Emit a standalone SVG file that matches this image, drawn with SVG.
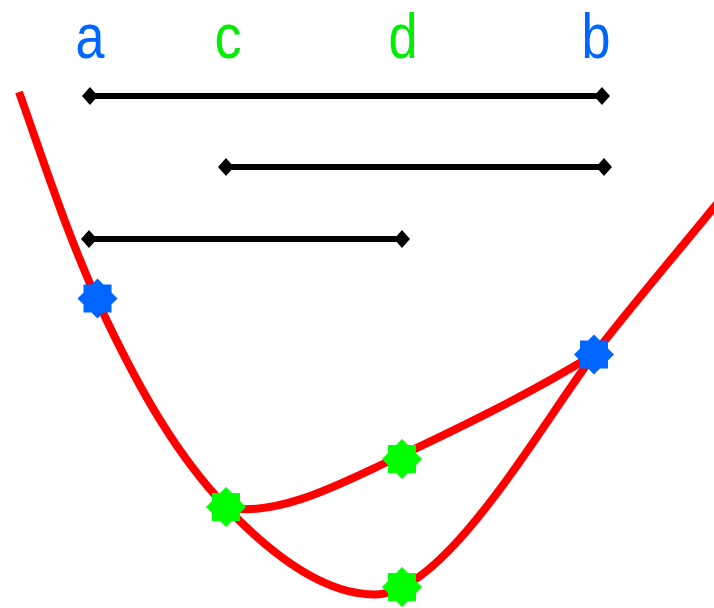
<svg xmlns="http://www.w3.org/2000/svg" width="714" height="608" viewBox="0 0 714 608">
  <style>
    .lbl { font-family: "Liberation Sans", Arial, sans-serif; font-size: 63px; text-anchor: middle; }
    .blue { fill: #0066ff; }
    .green { fill: #00ee00; }
    .seg { stroke: #000; stroke-width: 6; fill: none; }
    .curve { stroke: #ff0000; stroke-width: 8; fill: none; }
    .star-b { fill: #0066ff; }
    .star-g { fill: #00ff00; }
  </style>
  <defs>
    <marker id="dia" viewBox="-10 -10 20 20" markerWidth="20" markerHeight="20" markerUnits="userSpaceOnUse" orient="0">
      <polygon points="0,-9 8,0 0,9 -8,0" fill="#000"/>
    </marker>
    <path id="star" d="M0,-20 L6,-14 L14,-14 L14,-6 L20,0 L14,6 L14,14 L6,14 L0,20 L-6,14 L-14,14 L-14,6 L-20,0 L-14,-6 L-14,-14 L-6,-14 Z"/>
  </defs>
  <rect width="714" height="608" fill="#fff"/>

  <g id="labels">
    <text id="label-a" class="lbl blue" x="90" y="57.5" textLength="29" lengthAdjust="spacingAndGlyphs">a</text>
    <text id="label-c" class="lbl green" x="228" y="57.5" textLength="27" lengthAdjust="spacingAndGlyphs">c</text>
    <text id="label-d" class="lbl green" x="403" y="57.5" textLength="29" lengthAdjust="spacingAndGlyphs">d</text>
    <text id="label-b" class="lbl blue" x="596" y="57.5" textLength="29" lengthAdjust="spacingAndGlyphs">b</text>
  </g>

  <g id="intervals">
    <line id="interval-ab" class="seg" x1="90" y1="96" x2="602" y2="96" marker-start="url(#dia)" marker-end="url(#dia)"/>
    <line id="interval-cb" class="seg" x1="226" y1="167" x2="604" y2="167" marker-start="url(#dia)" marker-end="url(#dia)"/>
    <line id="interval-ad" class="seg" x1="89" y1="239" x2="402" y2="239" marker-start="url(#dia)" marker-end="url(#dia)"/>
  </g>

  <g id="connectors">
    <path id="curve-main" class="curve" d="M19,92 C46,168 70.5,245 107,321 C139,387.7 175,453.4 226,507 C264,546.9 320,594.5 375,594.5 C445,594.5 539,428 593,356 C623,316 688.5,239 720,200"/>
    <path id="curve-upper" class="curve" d="M226,507 C274,518 338,485.2 383,464 C453.7,430.8 526,396 593,355"/>
  </g>

  <g id="point-a"><use href="#star" class="star-b" x="97.5" y="298.5"/></g>
  <g id="point-c"><use href="#star" class="star-g" x="226" y="507"/></g>
  <g id="point-d-upper"><use href="#star" class="star-g" x="402" y="459"/></g>
  <g id="point-d-lower"><use href="#star" class="star-g" x="402" y="587"/></g>
  <g id="point-b"><use href="#star" class="star-b" x="594" y="354.5"/></g>
</svg>
